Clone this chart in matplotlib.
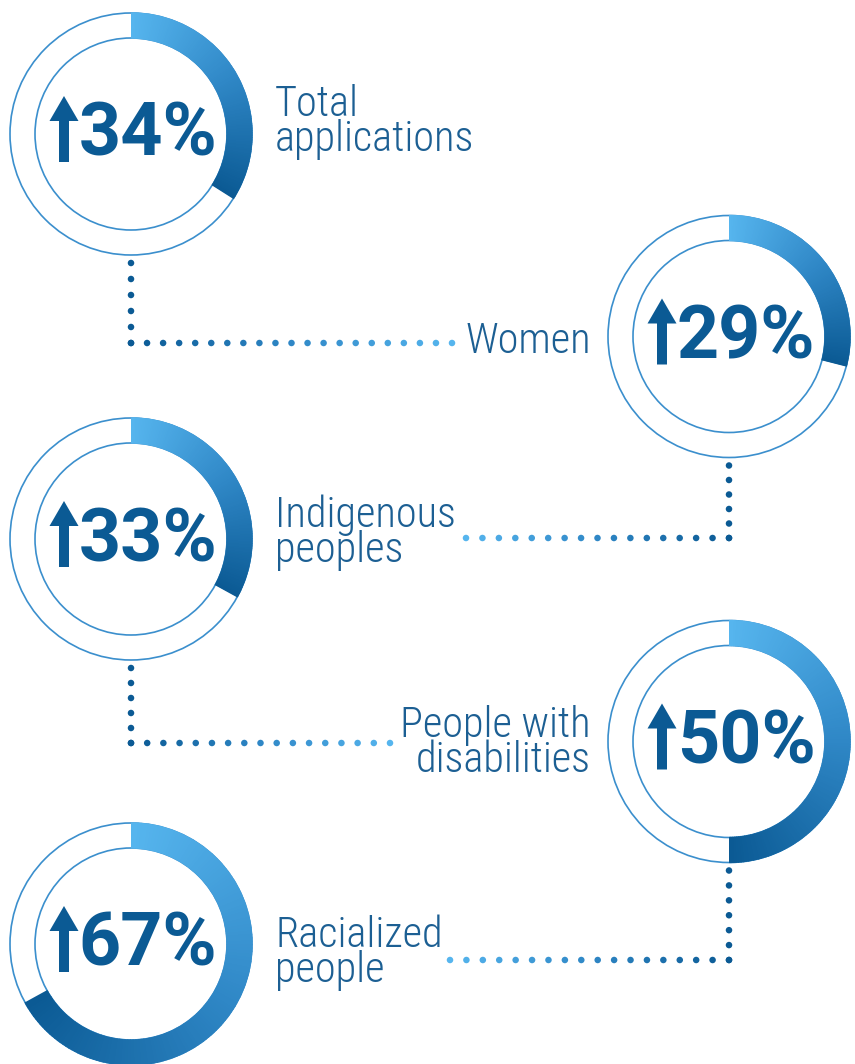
import numpy as np
import matplotlib
matplotlib.use("Agg")
import matplotlib.pyplot as plt
from matplotlib.patches import Wedge, Circle, Polygon
from matplotlib.colors import LinearSegmentedColormap

# Data
labels = ["Total\napplications", "Women", "Indigenous\npeoples",
          "People with\ndisabilities", "Racialized\npeople"]
pct = [34, 29, 33, 50, 67]

# Style
DARK = "#0b5a94"
TEXT = "#1c5f93"
RING = "#3b8fcd"
cmap = LinearSegmentedColormap.from_list("blues", ["#56b5ee", "#2f87c6", "#0b5a94"])
NUM_FONT = ["Roboto", "DejaVu Sans"]
LBL_FONT = ["Roboto Condensed", "DejaVu Sans"]

W, H = 855, 1064
fig = plt.figure(figsize=(W / 100, H / 100), dpi=100)
ax = fig.add_axes([0, 0, 1, 1])
ax.set_xlim(0, W)
ax.set_ylim(H, 0)
ax.set_aspect("equal")
ax.axis("off")

R_OUT, R_IN = 121, 96
centers = [(131 + 598 * (i % 2), 134 + 202.5 * i) for i in range(len(pct))]

# label anchor (x, first baseline, ha) per ring
label_pos = [(275, 117, "left"), (591, 353, "right"), (275, 528, "left"),
             (591, 738, "right"), (275, 948, "left")]
LINE_GAP = 34


def dots(x0, y0, x1, y1, step=16, c0=0.0, c1=0.0):
    n = int(round(np.hypot(x1 - x0, y1 - y0) / step))
    t = np.linspace(0, 1, n + 1)
    xs = x0 + (x1 - x0) * t
    ys = y0 + (y1 - y0) * t
    cols = cmap(1 - (c0 + (c1 - c0) * t))
    ax.scatter(xs, ys, s=22, c=cols, linewidths=0, zorder=3)


for i, (p, lab) in enumerate(zip(pct, labels)):
    cx, cy = centers[i]
    # thin rings
    ax.add_patch(Circle((cx, cy), R_OUT, fill=False, ec=RING, lw=1.2, zorder=2))
    ax.add_patch(Circle((cx, cy), R_IN, fill=False, ec=RING, lw=1.2, zorder=2))
    # gradient arc, clockwise from the top (y axis is inverted)
    span = 360 * p / 100
    n = 150
    for k in range(n):
        a1 = -90 + span * k / n
        a2 = -90 + span * (k + 1) / n + (0.5 if k < n - 1 else 0)
        ax.add_patch(Wedge((cx, cy), R_OUT + 0.6, a1, a2, width=R_OUT - R_IN + 1.2,
                           fc=cmap(k / (n - 1)), ec="none", zorder=2.5))
    # up arrow
    axc = cx - 67
    tip, neck, base = cy - 38, cy - 13, cy + 28
    ax.add_patch(Polygon([(axc, tip), (axc + 14.5, neck), (axc + 5, neck), (axc + 5, base),
                          (axc - 5, base), (axc - 5, neck), (axc - 14.5, neck)],
                         closed=True, fc=DARK, ec="none", zorder=4))
    # big number
    ax.text(cx + 17, cy + 22, f"{p}%", ha="center", va="baseline",
            fontsize=53, fontweight="bold", color=DARK, family=NUM_FONT, zorder=4)

    # label (va="baseline" pins the last line, so shift by the extra lines)
    lx, ly, ha = label_pos[i]
    ax.text(lx, ly + LINE_GAP * lab.count("\n"), lab, ha=ha, va="baseline", ma=ha,
            fontsize=30.5, linespacing=0.82, fontweight="light", color=TEXT,
            family=LBL_FONT)

# connectors: from each ring's bottom down, then across towards the next label
links = [(0, 343, 452), (1, 538, 466), (2, 743, 390), (3, 960, 450)]
for i, y_turn, x_end in links:
    cx, cy = centers[i]
    dots(cx, cy + R_OUT + 8, cx, y_turn)
    dots(cx, y_turn, x_end, y_turn, c0=0.0, c1=1.0)

fig.savefig("out.png", dpi=100)
